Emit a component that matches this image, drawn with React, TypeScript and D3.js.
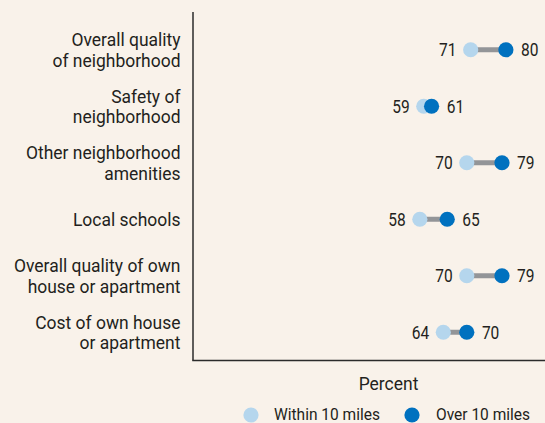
import React from "react";
import * as d3 from "d3";

const categories: string[][] = [
  ["Overall quality", "of neighborhood"],
  ["Safety of", "neighborhood"],
  ["Other neighborhood", "amenities"],
  ["Local schools"],
  ["Overall quality of own", "house or apartment"],
  ["Cost of own house", "or apartment"],
];
const within10: number[] = [71, 59, 70, 58, 70, 64];
const over10: number[] = [80, 61, 79, 65, 79, 70];
const seriesNames = ["Within 10 miles", "Over 10 miles"];
const axisTitle = "Percent";

const W = 545;
const H = 423;
const FONT = "Roboto, 'Liberation Sans', sans-serif";
const LIGHT = "#b5d6ed";
const DARK = "#0071bf";
const TEXT = "#231f20";
const BG = "#f9f2ea";

type TProps = {
  x: number;
  y: number;
  size: number;
  sx: number;
  anchor?: "start" | "middle" | "end";
  children: React.ReactNode;
};

function T({ x, y, size, sx, anchor = "start", children }: TProps) {
  return (
    <text
      transform={`translate(${x},${y}) scale(${sx},1)`}
      textAnchor={anchor}
      fontSize={size}
      fill={TEXT}
      dy="0.36em"
    >
      {children}
    </text>
  );
}

export default function App() {
  const x = d3.scaleLinear().domain([0, 90]).range([193, 545]);
  const y = d3
    .scaleBand<number>()
    .domain(d3.range(categories.length))
    .range([21.5, 360.5]);
  const cy = (i: number) => (y(i) as number) + y.bandwidth() / 2;
  const r = 7.6;
  const lineH = 20.5;
  return (
    <svg
      width={W}
      height={H}
      style={{ position: "absolute", left: 0, top: 0, background: BG }}
      fontFamily={FONT}
    >
      <rect x={0} y={0} width={W} height={H} fill={BG} />
      <line x1={193} x2={193} y1={12} y2={360.5} stroke="#2b2b2b" strokeWidth={1.5} />
      <line x1={192.25} x2={545} y1={360.5} y2={360.5} stroke="#2b2b2b" strokeWidth={1.5} />
      {categories.map((lines, i) => {
        const c = cy(i);
        const n = lines.length;
        return (
          <g key={i}>
            {lines.map((ln, j) => (
              <T
                key={j}
                x={180.5}
                y={c + (j - (n - 1) / 2) * lineH}
                size={18.5}
                sx={0.945}
                anchor="end"
              >
                {ln}
              </T>
            ))}
            <line
              x1={x(within10[i])}
              x2={x(over10[i])}
              y1={c}
              y2={c}
              stroke="#939598"
              strokeWidth={5}
            />
            <circle cx={x(within10[i])} cy={c} r={r} fill={LIGHT} />
            <circle cx={x(over10[i])} cy={c} r={r} fill={DARK} />
            <T x={x(within10[i]) - r - 6.5} y={c} size={18.5} sx={0.84} anchor="end">
              {within10[i]}
            </T>
            <T x={x(over10[i]) + r + 7.5} y={c} size={18.5} sx={0.84}>
              {over10[i]}
            </T>
          </g>
        );
      })}
      <T x={388.5} y={383} size={18.5} sx={0.945} anchor="middle">
        {axisTitle}
      </T>
      <g>
        <circle cx={251} cy={415} r={r} fill={LIGHT} />
        <T x={274} y={414.5} size={16} sx={0.97}>
          {seriesNames[0]}
        </T>
        <circle cx={412} cy={415} r={r} fill={DARK} />
        <T x={436} y={414.5} size={16} sx={0.97}>
          {seriesNames[1]}
        </T>
      </g>
    </svg>
  );
}
